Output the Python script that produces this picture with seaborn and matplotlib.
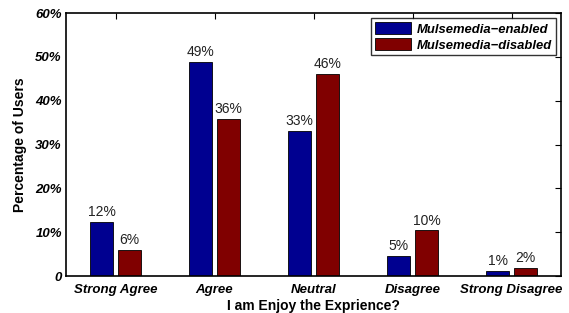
import pandas as pd
import seaborn as sns
import matplotlib.pyplot as plt

categories = ['Strong Agree', 'Agree', 'Neutral', 'Disagree', 'Strong Disagree']
enabled = [12.4, 48.9, 33.2, 4.6, 1.2]
disabled = [5.9, 35.8, 46.2, 10.4, 1.9]
series = ['Mulsemedia\u2212enabled', 'Mulsemedia\u2212disabled']
yticks = [0, 10, 20, 30, 40, 50, 60]
ytick_labels = ['0', '10%', '20%', '30%', '40%', '50%', '60%']

df = pd.DataFrame({
    'category': categories * 2,
    'value': enabled + disabled,
    'series': [series[0]] * len(categories) + [series[1]] * len(categories),
})

sns.set_style('white', {'text.color': 'black', 'axes.labelcolor': 'black',
                        'xtick.color': 'black', 'ytick.color': 'black'})
plt.rcParams['font.family'] = ['Liberation Sans', 'DejaVu Sans']

fig, ax = plt.subplots(figsize=(5.69, 3.13), dpi=100)
sns.barplot(data=df, x='category', y='value', hue='series', order=categories,
            hue_order=series, palette=['#000090', '#800000'], saturation=1,
            width=0.56, gap=0.18, edgecolor='black', linewidth=0.6, ax=ax)

for cont in ax.containers:
    ax.bar_label(cont, labels=['%d%%' % round(v) for v in cont.datavalues],
                 padding=2, fontsize=10, color='#222222')

ax.set_xlim(-0.5, 4.5)
ax.set_ylim(0, 60)
ax.set_yticks(yticks)
ax.set_yticklabels(ytick_labels, fontsize=9.5, fontweight='bold', fontstyle='italic')
ax.set_xticklabels(categories, fontsize=9.5, fontweight='bold', fontstyle='italic')
ax.set_xlabel('I am Enjoy the Exprience?', fontsize=10, fontweight='bold', labelpad=2)
ax.set_ylabel('Percentage of Users', fontsize=10, fontweight='bold', labelpad=6)
ax.tick_params(direction='in', top=True, right=True, length=4, width=0.8)
ax.tick_params(axis='x', pad=6)
ax.tick_params(axis='y', pad=3)
for sp in ax.spines.values():
    sp.set_color('black')
    sp.set_linewidth(1.2)

leg = ax.legend(loc='upper right', fontsize=9.4, frameon=True, fancybox=False,
                borderaxespad=0.4, handlelength=2.8, handleheight=1.0,
                handletextpad=0.4, borderpad=0.3, labelspacing=0.2)
leg.get_frame().set_edgecolor('black')
leg.get_frame().set_linewidth(1.0)
for t in leg.get_texts():
    t.set_fontweight('bold')
    t.set_fontstyle('italic')

fig.subplots_adjust(left=0.116, right=0.986, top=0.958, bottom=0.118)
fig.savefig('out.png', dpi=100)
